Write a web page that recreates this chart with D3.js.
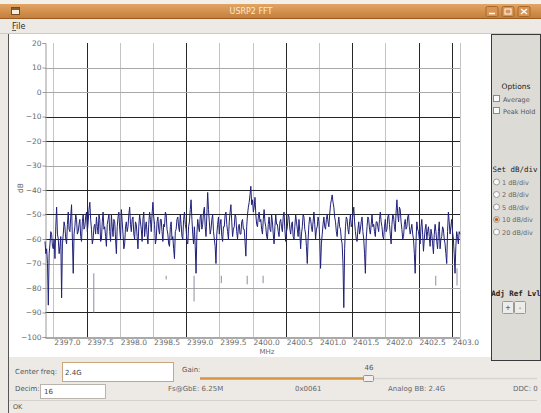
<!DOCTYPE html>
<html>
<head>
<meta charset="utf-8">
<script src="https://cdnjs.cloudflare.com/ajax/libs/d3/7.8.5/d3.min.js"></script>
<style>
  html, body { margin: 0; padding: 0; background: #edeae6; }
  svg { display: block; font-family: "DejaVu Sans", sans-serif; }
</style>
</head>
<body>
<svg id="win" width="541" height="413"></svg>
<script>
// FFT display span (MHz)
const freqStart = 2396.875;
const freqStop = 2403.125;

// Axis ticks
const xTickLabels = [2397.0, 2397.5, 2398.0, 2398.5, 2399.0, 2399.5, 2400.0,
                     2400.5, 2401.0, 2401.5, 2402.0, 2402.5, 2403.0];
const yTickLabels = [20, 10, 0, -10, -20, -30, -40, -50, -60, -70, -80, -90, -100];

// Spectrum magnitude per FFT bin (dB), evenly spaced across the span
const spectrumDb = [
  -61,-66,-64,-70,-87,-66,-62,-57,-58,-63,-64,-60,-68,-55,-47,-58,-60,-66,-63,-59,
  -84,-62,-58,-53,-55,-60,-62,-54,-49,-56,-57,-51,-46,-60,-74,-58,-55,-50,-52,-58,
  -57,-54,-52,-59,-61,-53,-50,-56,-55,-51,-49,-57,-53,-48,-45,-52,-56,-62,-60,-55,
  -54,-58,-51,-55,-58,-50,-52,-61,-60,-53,-49,-56,-55,-59,-63,-54,-52,-50,-57,-61,
  -50,-55,-59,-52,-53,-60,-66,-55,-51,-49,-56,-60,-48,-53,-58,-64,-62,-55,-53,-57,
  -55,-50,-47,-54,-57,-52,-51,-58,-60,-53,-54,-59,-64,-55,-50,-53,-56,-61,-52,-49,
  -59,-55,-53,-58,-62,-54,-49,-52,-57,-50,-45,-51,-54,-62,-60,-53,-51,-56,-58,-52,
  -52,-57,-61,-54,-55,-49,-50,-56,-58,-62,-63,-55,-53,-60,-59,-64,-68,-57,-56,-52,
  -51,-55,-57,-50,-54,-59,-60,-52,-49,-54,-56,-61,-62,-55,-53,-48,-44,-52,-58,-62,
  -55,-63,-74,-58,-52,-55,-57,-51,-50,-56,-54,-49,-47,-55,-59,-50,-41,-48,-53,-58,
  -56,-52,-50,-57,-60,-63,-70,-58,-54,-51,-58,-54,-52,-59,-61,-55,-55,-50,-49,-54,
  -57,-60,-53,-49,-46,-53,-59,-56,-55,-50,-51,-57,-60,-55,-54,-58,-58,-53,-52,-56,
  -56,-61,-67,-55,-50,-47,-45,-42,-38.5,-46,-44,-49,-47,-43,-50,-54,-55,-51,-49,-53,
  -52,-56,-58,-52,-48,-53,-55,-59,-60,-54,-51,-56,-57,-50,-53,-58,-62,-55,-50,-54,
  -54,-57,-59,-53,-52,-55,-57,-51,-49,-56,-61,-57,-55,-50,-51,-56,-58,-54,-53,-59,
  -60,-55,-50,-53,-56,-59,-52,-57,-64,-58,-55,-50,-51,-56,-58,-63,-70,-60,-54,-51,
  -52,-55,-57,-53,-49,-54,-60,-56,-55,-51,-53,-60,-72,-62,-58,-54,-51,-55,-56,-52,
  -50,-53,-55,-50,-46,-44,-42,-45,-47,-51,-53,-57,-59,-54,-51,-55,-56,-60,-62,-70,
  -88,-64,-55,-51,-52,-56,-58,-53,-50,-55,-54,-50,-47,-53,-57,-60,-61,-56,-53,-58,
  -56,-53,-51,-57,-60,-66,-74,-60,-55,-51,-52,-56,-58,-54,-50,-55,-54,-57,-59,-53,
  -53,-55,-57,-52,-49,-53,-55,-59,-60,-55,-52,-57,-56,-51,-50,-54,-58,-62,-54,-50,
  -51,-55,-57,-49,-44,-50,-53,-47,-48,-53,-56,-60,-59,-54,-52,-56,-55,-51,-50,-55,
  -58,-56,-54,-58,-60,-66,-74,-61,-53,-56,-57,-60,-62,-55,-52,-58,-65,-60,-56,-54,
  -60,-57,-55,-59,-63,-56,-58,-62,-66,-58,-54,-57,-61,-64,-57,-53,-64,-60,-59,-55,
  -56,-60,-62,-66,-70,-57,-49,-53,-58,-55,-52,-57,-60,-66,-74,-63,-57,-59,-62,-57,
  -58
];

// Short faint drop-outs below the trace: [freq MHz, upper dB, lower dB]
const dropFreq = [2397.61, 2398.70, 2399.12, 2399.53, 2399.92, 2400.16, 2402.76, 2403.08];
const dropTop  = [-74, -75, -75, -75, -75, -75, -75, -72];
const dropBot  = [-90, -76.5, -85.5, -78, -78.5, -78, -79, -79];

// Gridlines that render darker
const darkX = [2397.5, 2399.0, 2400.5, 2401.5, 2402.5, 2403.0];
const darkY = [-10, -20, -40, -50, -60, -90];

// Radio choices for dB/div
const dbDivChoices = ["1 dB/div", "2 dB/div", "5 dB/div", "10 dB/div", "20 dB/div"];
const dbDivSelected = "10 dB/div";

const svg = d3.select("#win");
const W = 541, H = 413;

function text(g, x, y, s, o = {}) {
  return g.append("text")
    .attr("x", x).attr("y", y)
    .attr("font-size", o.size || 7.5)
    .attr("fill", o.fill || "#3c3c3c")
    .attr("text-anchor", o.anchor || "start")
    .attr("font-family", o.family || "DejaVu Sans, sans-serif")
    .attr("font-weight", o.weight || "normal")
    .text(s);
}

// ---- window chrome ----
svg.append("rect").attr("width", W).attr("height", H).attr("fill", "#edeae6");

const defs = svg.append("defs");
const tg = defs.append("linearGradient").attr("id", "titleGrad")
  .attr("x1", 0).attr("y1", 0).attr("x2", 0).attr("y2", 1);
tg.append("stop").attr("offset", 0).attr("stop-color", "#e2a565");
tg.append("stop").attr("offset", 1).attr("stop-color", "#c27c38");

svg.append("rect").attr("x", 0).attr("y", 0).attr("width", W).attr("height", 4).attr("fill", "#f3efe9");
svg.append("rect").attr("x", 0).attr("y", 4).attr("width", W).attr("height", 15)
  .attr("fill", "url(#titleGrad)");
svg.append("line").attr("x1", 0).attr("x2", W).attr("y1", 18.5).attr("y2", 18.5).attr("stroke", "#9a5c22");
// title icon
svg.append("rect").attr("x", 11.5).attr("y", 7.5).attr("width", 8).attr("height", 7)
  .attr("fill", "#f4ede4").attr("stroke", "#7a4a1c");
svg.append("rect").attr("x", 12).attr("y", 8).attr("width", 7).attr("height", 2).attr("fill", "#8a5a2a");
text(svg, 251, 14, "USRP2 FFT", { size: 8, fill: "#fbe9d3", anchor: "middle" });
// title buttons
[492, 508, 524].forEach((bx, i) => {
  svg.append("rect").attr("x", bx - 6).attr("y", 6.5).attr("width", 12).attr("height", 10).attr("rx", 1.5)
    .attr("fill", "#d89452").attr("stroke", "#a8682c");
  if (i === 0) svg.append("line").attr("x1", bx - 3).attr("x2", bx + 3).attr("y1", 13.5).attr("y2", 13.5).attr("stroke", "#fff").attr("stroke-width", 1.5);
  if (i === 1) svg.append("rect").attr("x", bx - 3).attr("y", 9).attr("width", 6).attr("height", 5).attr("fill", "none").attr("stroke", "#fff");
  if (i === 2) {
    svg.append("line").attr("x1", bx - 3).attr("x2", bx + 3).attr("y1", 9).attr("y2", 14).attr("stroke", "#fff").attr("stroke-width", 1.3);
    svg.append("line").attr("x1", bx + 3).attr("x2", bx - 3).attr("y1", 9).attr("y2", 14).attr("stroke", "#fff").attr("stroke-width", 1.3);
  }
});

// menu bar
svg.append("rect").attr("x", 0).attr("y", 19).attr("width", W).attr("height", 14).attr("fill", "#edeae6");
text(svg, 12, 29, "File", { size: 8, fill: "#2c2c2c" });
svg.append("line").attr("x1", 12).attr("x2", 16).attr("y1", 30.5).attr("y2", 30.5).attr("stroke", "#2c2c2c").attr("stroke-width", 0.7);
svg.append("line").attr("x1", 0).attr("x2", W).attr("y1", 33.5).attr("y2", 33.5).attr("stroke", "#cfcac3");

// ---- plot panel ----
svg.append("rect").attr("x", 8).attr("y", 34).attr("width", 483).attr("height", 323).attr("fill", "#ffffff");
svg.append("line").attr("x1", 8.5).attr("x2", 8.5).attr("y1", 34).attr("y2", 413).attr("stroke", "#555");

const x = d3.scaleLinear().domain([freqStart, freqStop]).range([45, 460]);
const y = d3.scaleLinear().domain([-100, 20]).range([337, 43]);

const grid = svg.append("g");
grid.selectAll("line.gx").data(xTickLabels).join("line")
  .attr("x1", d => Math.round(x(d)) + 0.5).attr("x2", d => Math.round(x(d)) + 0.5)
  .attr("y1", y(20)).attr("y2", y(-100))
  .attr("stroke", d => darkX.includes(d) ? "#262626" : "#c4c4c4").attr("stroke-width", 1);
grid.selectAll("line.gy").data(yTickLabels.filter(d => d > -100 && d < 20)).join("line")
  .attr("x1", 45).attr("x2", 460)
  .attr("y1", d => Math.round(y(d)) + 0.5).attr("y2", d => Math.round(y(d)) + 0.5)
  .attr("stroke", d => darkY.includes(d) ? "#262626" : "#a8a8a8").attr("stroke-width", 1);
// right frame edge
grid.append("line").attr("x1", x(freqStop) + 0.5).attr("x2", x(freqStop) + 0.5)
  .attr("y1", y(20)).attr("y2", y(-100)).attr("stroke", "#c4c4c4");

// axes
const yAxis = svg.append("g").attr("transform", "translate(45.5,0)")
  .call(d3.axisLeft(y).tickValues(yTickLabels).tickSize(3).tickPadding(1).tickFormat(d3.format("d")));
yAxis.select(".domain").attr("stroke", "#9a9a9a");
yAxis.selectAll(".tick line").attr("stroke", "#9a9a9a");
yAxis.selectAll(".tick text").attr("fill", "#6a6a6a").attr("font-size", 7.5).attr("font-family", "DejaVu Sans, sans-serif");

const xAxis = svg.append("g").attr("transform", `translate(0,${y(-100) + 0.5})`)
  .call(d3.axisBottom(x).tickValues(xTickLabels).tickSize(0).tickPadding(2).tickFormat(d3.format(".1f")));
xAxis.select(".domain").attr("stroke", "#555");
xAxis.selectAll(".tick text").attr("fill", "#6a6a6a").attr("font-size", 7.5)
  .attr("font-family", "DejaVu Sans, sans-serif").attr("text-anchor", "start").attr("dx", 0.5);

text(svg, 267, 354, "MHz", { size: 7, fill: "#6a6a6a", anchor: "middle" });
text(svg, 0, 0, "dB", { size: 7.5, fill: "#6a6a6a", anchor: "middle" })
  .attr("transform", "translate(23,188) rotate(-90)");

// spectrum trace
const step = (freqStop - freqStart) / (spectrumDb.length - 1);
const line = d3.line().x((d, i) => x(freqStart + i * step)).y(d => y(d));
svg.append("path").datum(spectrumDb).attr("d", line)
  .attr("fill", "none").attr("stroke", "#20207a").attr("stroke-width", 1)
  .attr("stroke-linejoin", "round");

// faint drop-outs
svg.append("g").selectAll("line").data(dropFreq).join("line")
  .attr("x1", d => x(d)).attr("x2", d => x(d))
  .attr("y1", (d, i) => y(dropTop[i])).attr("y2", (d, i) => y(dropBot[i]))
  .attr("stroke", "#8c8ca6").attr("stroke-width", 1);

// ---- right control panel ----
const rp = svg.append("g");
rp.append("rect").attr("x", 491.5).attr("y", 34.5).attr("width", 49).attr("height", 326)
  .attr("fill", "#dddbd6").attr("stroke", "#3a3a3a");
text(rp, 516, 89, "Options", { size: 7.5, fill: "#222", anchor: "middle" });
[["Average", 99], ["Peak Hold", 111]].forEach(([lab, cy]) => {
  rp.append("rect").attr("x", 493.5).attr("y", cy - 3.5).attr("width", 6).attr("height", 6)
    .attr("fill", "#fafafa").attr("stroke", "#8a8a8a");
  text(rp, 503, cy + 2.5, lab, { size: 6.5, fill: "#555" });
});
text(rp, 515, 172, "Set dB/div", { size: 7.5, fill: "#222", anchor: "middle", family: "DejaVu Sans Mono, monospace" });
dbDivChoices.forEach((lab, i) => {
  const cy = 182 + i * 12.5;
  rp.append("circle").attr("cx", 496.5).attr("cy", cy).attr("r", 3)
    .attr("fill", lab === dbDivSelected ? "#f0d2b0" : "#fafafa").attr("stroke", "#9a9a9a");
  if (lab === dbDivSelected) rp.append("circle").attr("cx", 496.5).attr("cy", cy).attr("r", 1.6).attr("fill", "#b85a14");
  text(rp, 502, cy + 2.5, lab, { size: 6.5, fill: "#666" });
});
text(rp, 516, 296, "Adj Ref Lvl", { size: 7.5, fill: "#222", anchor: "middle", family: "DejaVu Sans Mono, monospace", weight: "bold" });
[["+", 502], ["-", 514]].forEach(([lab, bx]) => {
  rp.append("rect").attr("x", bx + 0.5).attr("y", 301.5).attr("width", 11).attr("height", 12).attr("rx", 1)
    .attr("fill", "#eeece8").attr("stroke", "#9a9a9a");
  text(rp, bx + 6, 310, lab, { size: 7, fill: "#333", anchor: "middle" });
});

// ---- bottom controls ----
const bc = svg.append("g");
text(bc, 15, 374, "Center freq:", { size: 7, fill: "#555" });
bc.append("rect").attr("x", 62.5).attr("y", 362.5).attr("width", 111).attr("height", 19)
  .attr("fill", "#fff").attr("stroke", "#c9a67c");
text(bc, 65, 375, "2.4G", { size: 7, fill: "#444" });
text(bc, 182, 372, "Gain:", { size: 7, fill: "#555" });
text(bc, 369, 370, "46", { size: 7, fill: "#555", anchor: "middle" });
bc.append("line").attr("x1", 200).attr("x2", 366).attr("y1", 378.5).attr("y2", 378.5)
  .attr("stroke", "#d9953f").attr("stroke-width", 2.5);
bc.append("line").attr("x1", 372).attr("x2", 537).attr("y1", 378.5).attr("y2", 378.5)
  .attr("stroke", "#d8d5d0").attr("stroke-width", 1.5);
bc.append("rect").attr("x", 363.5).attr("y", 375.5).attr("width", 10).attr("height", 6).attr("rx", 1)
  .attr("fill", "#f2f0ec").attr("stroke", "#9a948c");
text(bc, 15, 391, "Decim:", { size: 7, fill: "#555" });
bc.append("rect").attr("x", 40.5).attr("y", 384.5).attr("width", 65).attr("height", 14)
  .attr("fill", "#fff").attr("stroke", "#b9b4ad");
text(bc, 44, 394, "16", { size: 7, fill: "#444" });
text(bc, 168, 391, "Fs@GbE: 6.25M", { size: 7, fill: "#666" });
text(bc, 295, 391, "0x0061", { size: 7, fill: "#666" });
text(bc, 388, 391, "Analog BB: 2.4G", { size: 7, fill: "#666" });
text(bc, 513, 391, "DDC: 0", { size: 7, fill: "#666" });

// status bar
bc.append("line").attr("x1", 9).attr("x2", 537).attr("y1", 400.5).attr("y2", 400.5).attr("stroke", "#d6d2cc");
text(bc, 13, 409, "OK", { size: 6.5, fill: "#555" });
</script>
</body>
</html>
